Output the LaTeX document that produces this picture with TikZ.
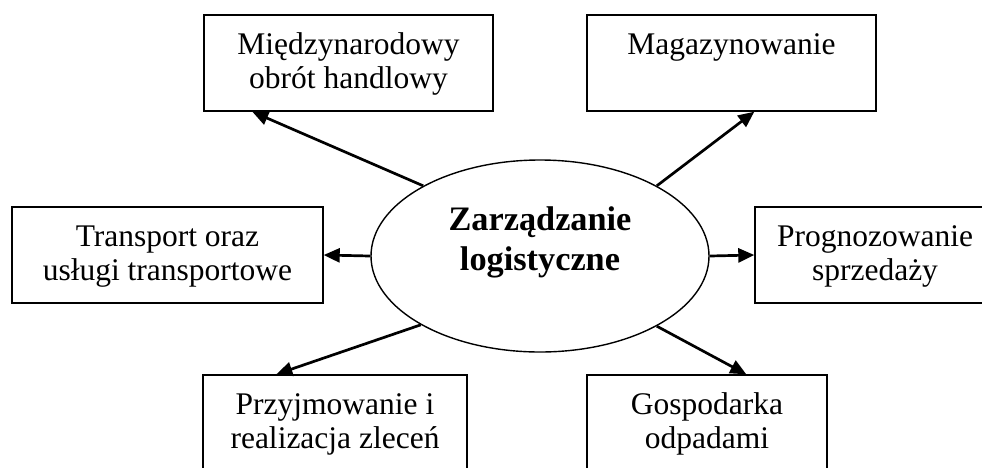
\documentclass[tikz,border=0pt]{standalone}
\usepackage{fontspec}
\setmainfont{Liberation Serif}
\usetikzlibrary{arrows.meta,calc,shapes.geometric}
\newcommand\twoln[2]{\vtop{\halign{\hfil##\hfil\cr#1\cr#2\cr}}}
\begin{document}
\begin{tikzpicture}[x=1pt,y=-1pt,
  box/.style={draw, line width=1.4pt, rectangle, inner sep=0pt,
    minimum height=96pt, text height=20pt, text depth=38pt,
    font=\fontsize{31.5}{34}\selectfont},
  hub/.style={draw, line width=1.4pt, ellipse, inner sep=0pt,
    minimum width=338pt, minimum height=192pt, text height=30pt, text depth=82pt,
    font=\fontsize{34.3}{40}\selectfont\bfseries},
  arr/.style={line width=2.7pt, -{Triangle[length=16pt,width=14pt]}}]
\useasboundingbox (0,0) rectangle (982,467);
\clip (0,0) rectangle (982,467);
\node[hub] (e) at (540,256) {\twoln{Zarządzanie}{logistyczne}};
\node[box, minimum width=289pt] (b1) at (348.5,63) {\twoln{Międzynarodowy}{obrót handlowy}};
\node[box, minimum width=289pt] (b2) at (731.5,63) {Magazynowanie};
\node[box, minimum width=311pt] (b3) at (167.5,255) {\twoln{Transport oraz}{usługi transportowe}};
\node[box, minimum width=240pt] (b4) at (875,255) {\twoln{Prognozowanie}{sprzedaży}};
\node[box, minimum width=264pt] (b5) at (335,423) {\twoln{Przyjmowanie i}{realizacja zleceń}};
\node[box, minimum width=240pt] (b6) at (707,423) {\twoln{Gospodarka}{odpadami}};
\draw[arr] (e.149) -- ($(b1.south west)+(49,0)$);
\draw[arr] (e.31) -- ($(b2.south west)+(168,0)$);
\draw[arr] (e.west) -- (b3.east);
\draw[arr] (e.east) -- (b4.west);
\draw[arr] (e.210.6) -- ($(b5.north west)+(74,0)$);
\draw[arr] (e.329.4) -- ($(b6.north west)+(160,0)$);
\end{tikzpicture}
\end{document}
